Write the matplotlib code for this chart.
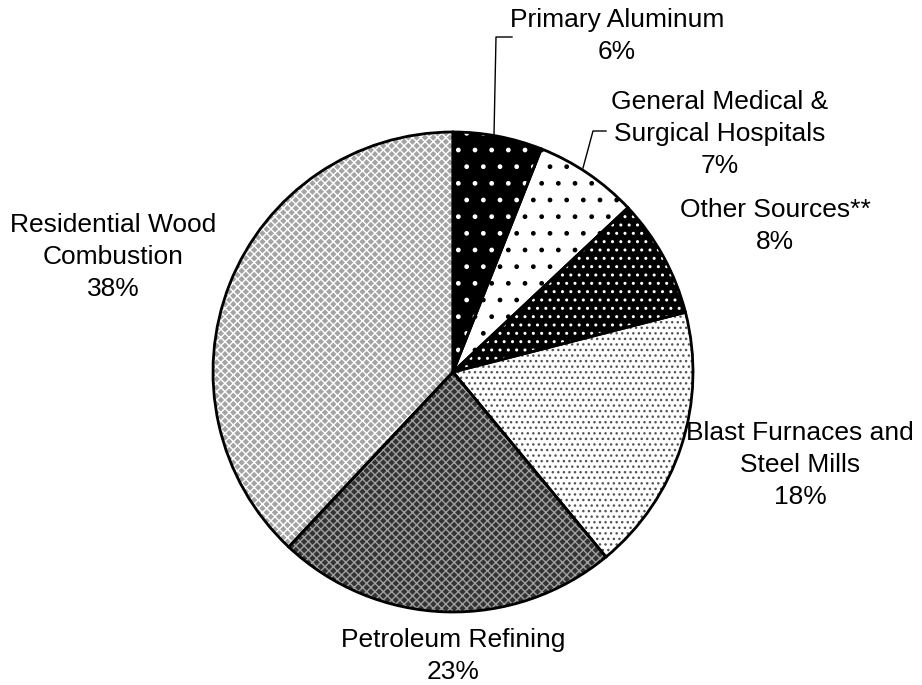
import matplotlib
matplotlib.use("Agg")
import matplotlib.pyplot as plt

categories = ["Primary Aluminum", "General Medical &\nSurgical Hospitals", "Other Sources**",
              "Blast Furnaces and\nSteel Mills", "Petroleum Refining", "Residential Wood\nCombustion"]
values = [6, 7, 8, 18, 23, 38]

faces = ["#000000", "#ffffff", "#000000", "#ffffff", "#333333", "#a4a4a4"]
hatch_colors = ["#ffffff", "#000000", "#ffffff", "#555555", "#a0a0a0", "#ffffff"]
hatches = [".", ".", "..", "...", "xxxx", "xxxx"]

# label anchor positions (pixels from top-left)
label_pos = [(617, 36), (720, 134), (775, 226), (800, 465), (453, 656), (113, 257)]

plt.rcParams['font.family'] = ['Liberation Sans', 'DejaVu Sans']
plt.rcParams['hatch.linewidth'] = 1.0

W, H = 922, 685
fig = plt.figure(figsize=(W / 100, H / 100), dpi=100)
ax = fig.add_axes([0, 0, 1, 1])

center = (453, H - 372)
radius = 240

wedges, _ = ax.pie(values, colors=faces, startangle=90, counterclock=False,
                   center=center, radius=radius, wedgeprops=dict(linewidth=0))
for w, hc, h in zip(wedges, hatch_colors, hatches):
    w.set_edgecolor(hc)
    w.set_hatch(h)
    w.set_linewidth(0)

ax.pie(values, colors=["none"] * len(values), startangle=90, counterclock=False,
       center=center, radius=radius,
       wedgeprops=dict(linewidth=2, edgecolor="black", fill=False))

for cat, v, (x, y) in zip(categories, values, label_pos):
    ax.text(x, H - y, f"{cat}\n{v}%", ha="center", va="center", fontsize=19,
            linespacing=1.44, color="black")

# leader lines
ax.plot([494, 496, 512], [H - 135, H - 37, H - 37], color="black", lw=1)
ax.plot([583, 593, 606], [H - 168, H - 131, H - 131], color="black", lw=1)

ax.set_xlim(0, W)
ax.set_ylim(0, H)
ax.set_aspect("equal")
ax.axis("off")

fig.savefig("out.png", dpi=100, facecolor="white")
